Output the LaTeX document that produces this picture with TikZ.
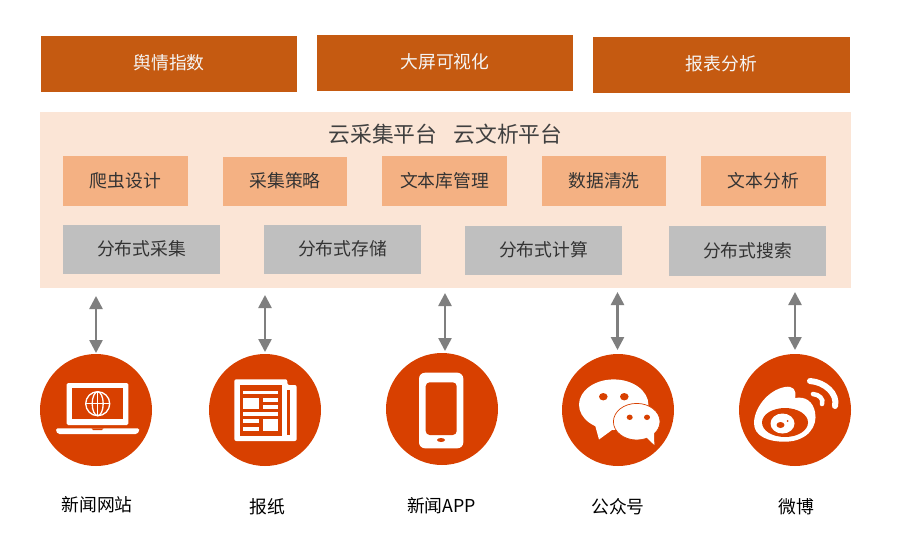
\documentclass[tikz,border=0pt]{standalone}
\usepackage{fontspec}
\setmainfont{Noto Sans CJK SC}
\usetikzlibrary{arrows.meta}
\definecolor{topc}{HTML}{C55A11}
\definecolor{panelc}{HTML}{FBE5D6}
\definecolor{peach}{HTML}{F4B183}
\definecolor{graybox}{HTML}{BFBFBF}
\definecolor{arrowc}{HTML}{7F7F7F}
\definecolor{disc}{HTML}{D84000}
\tikzset{
  x=1pt,y=-1pt,
  boxbase/.style={minimum width=0pt,inner sep=0pt,font=\fontsize{17.8}{20}\selectfont,text=black!80},
  topbox/.style={text=white!96!black,yshift=1pt},
  lbl/.style={font=\fontsize{17.8}{20}\selectfont,text=black,inner sep=0pt},
  link/.style={draw=arrowc,line width=2.5pt,{Triangle[length=13pt,width=13pt]}-{Triangle[length=13pt,width=13pt]}},
  icondisc/.style={circle,fill=disc,minimum size=112pt,inner sep=0pt},
  wht/.style={fill=white,draw=none},
  org/.style={fill=disc,draw=none}
}
% #1 options, #2 fill, #3 left, #4 top, #5 right, #6 bottom, #7 text
\newcommand{\mybox}[7]{\fill[#2] (#3,#4) rectangle (#5,#6);
  \node[boxbase,#1] at ({(#3+#5)/2},{(#4+#6)/2-0.5}) {#7};}
\begin{document}
\begin{tikzpicture}
\useasboundingbox (0,0) rectangle (904,552);
\fill[white] (0,0) rectangle (904,552);
% top
\mybox{topbox}{topc}{41}{36}{297}{92}{舆情指数}
\mybox{topbox}{topc}{317}{35}{573}{91}{大屏可视化}
\mybox{topbox}{topc}{593}{37}{850}{93}{报表分析}
% panel
\fill[panelc] (40,112) rectangle (851,288);
\node[lbl,text=black!75,font=\fontsize{21.8}{24}\selectfont] (title) at (445.5,134) {云采集平台\hspace{16pt}云文析平台};
\mybox{}{peach}{63}{156}{188}{206}{爬虫设计}
\mybox{}{peach}{223}{157}{347}{206}{采集策略}
\mybox{}{peach}{382}{156}{507}{206}{文本库管理}
\mybox{}{peach}{542}{156}{666}{206}{数据清洗}
\mybox{}{peach}{701}{156}{826}{206}{文本分析}
\mybox{}{graybox}{63}{225}{220}{274}{分布式采集}
\mybox{}{graybox}{264}{225}{421}{274}{分布式存储}
\mybox{}{graybox}{465}{226}{622}{275}{分布式计算}
\mybox{}{graybox}{669}{226}{826}{276}{分布式搜索}
% discs
\node[icondisc] (d1) at (96,410) {};
\node[icondisc] (d2) at (265,410) {};
\node[icondisc] (d3) at (442,409) {};
\node[icondisc] (d4) at (618,410) {};
\node[icondisc] (d5) at (795,410) {};
% connectors
\coordinate (t1) at (96,296);
\coordinate (t2) at (265,295);
\coordinate (t3) at (445,293);
\coordinate (t4) at (617.5,292);
\coordinate (t5) at (795,292);
\coordinate (b1) at (96,353);
\coordinate (b2) at (265,352);
\coordinate (b3) at (445,351);
\coordinate (b4) at (617.5,350);
\coordinate (b5) at (795,350);
\draw[link] (t1) -- (b1);
\draw[link] (t2) -- (b2);
\draw[link] (t3) -- (b3);
\draw[link] (t4) -- (b4);
\draw[link] (t5) -- (b5);
% labels
\node[lbl] (l1) at (97,505) {新闻网站};
\node[lbl] (l2) at (267,507) {报纸};
\node[lbl] (l3) at (441.5,506) {新闻APP};
\node[lbl] (l4) at (618,507) {公众号};
\node[lbl] (l5) at (796,507) {微博};
% laptop icon
\fill[wht,rounded corners=1.5pt] (66.7,383) rectangle (128.3,425);
\fill[org] (71.7,388) rectangle (123.3,419);
\fill[wht,rounded corners=1.5pt] (56,428.3) -- (139.3,428.3) -- (139.3,431) -- (137,434) -- (58,434) -- (56,431) -- cycle;
\fill[org] (91.5,428.3) -- (103.5,428.3) -- (102,430) -- (93,430) -- cycle;
\begin{scope}[draw=white,line width=1.3pt]
\draw (97.7,403.7) circle[radius=12];
\draw (97.7,403.7) ellipse[x radius=5.5,y radius=12];
\draw (97.7,391.7) -- (97.7,415.7);
\draw (85.7,403.7) -- (109.7,403.7);
\end{scope}
% newspaper icon
\fill[wht,rounded corners=2pt] (234.3,379.3) -- (287.3,379.3) -- (287.3,385) -- (296.7,385) -- (296.7,441) -- (234.3,441) -- cycle;
\fill[org] (240,385) rectangle (281.7,435.7);
\fill[org] (286.5,390) rectangle (290,435);
\fill[wht] (243.3,390.7) rectangle (278.3,394);
\fill[wht] (243.3,398.3) rectangle (259.3,409);
\fill[wht] (262.7,398.3) rectangle (278.3,402);
\fill[wht] (262.7,405) rectangle (278.3,409);
\fill[wht] (243.3,412.3) rectangle (278.3,416);
\fill[wht] (243.3,419.3) rectangle (259.3,423.3);
\fill[wht] (243.3,426.7) rectangle (259.3,430.7);
\fill[wht] (262.7,419.3) rectangle (278.3,430.7);
% phone icon
\fill[wht,rounded corners=6pt] (419,372.7) rectangle (463.3,448.3);
\fill[org,rounded corners=4pt] (425.7,382.3) rectangle (456.7,435);
\fill[org] (441,440) ellipse[x radius=4,y radius=2];
% wechat icon
\fill[wht] (613.7,404.7) ellipse[x radius=34.7,y radius=25.3];
\fill[wht] (595,425) -- (599,439.5) -- (612,430) -- cycle;
\fill[wht,draw=disc,line width=0.7pt] (636.7,421.7) ellipse[x radius=23.3,y radius=18.3];
\fill[wht] (645,436) -- (654.3,445) -- (654,430) -- cycle;
\fill[org] (603.3,396.7) ellipse[x radius=4.3,y radius=3.7];
\fill[org] (624.3,396.7) ellipse[x radius=4.3,y radius=3.7];
\fill[org] (629.7,417.3) ellipse[x radius=3,y radius=2.7];
\fill[org] (647,417.3) ellipse[x radius=3,y radius=2.7];
% weibo icon
\fill[wht] (754,423.3)
  .. controls (754,408) and (768,390) .. (785,387)
  .. controls (793,385.5) and (797,390) .. (795,398)
  .. controls (806,396) and (813,402) .. (815,412)
  .. controls (818,426) and (808,441) .. (786,441.7)
  .. controls (768,442) and (754,436) .. (754,423.3) -- cycle;
\fill[org] (785,422.5) ellipse[x radius=23,y radius=14.5];
\fill[wht] (782.5,423.5) ellipse[x radius=12,y radius=10];
\fill[org] (780.5,425) ellipse[x radius=4,y radius=3];
\fill[org] (787.5,421) circle[radius=1];
\draw[white,line width=6pt,line cap=round] (810,381) .. controls (825,382) and (838,394) .. (835,406);
\draw[white,line width=4.5pt,line cap=round] (813,394) .. controls (819,394.5) and (824,399) .. (822,404);
\end{tikzpicture}
\end{document}
